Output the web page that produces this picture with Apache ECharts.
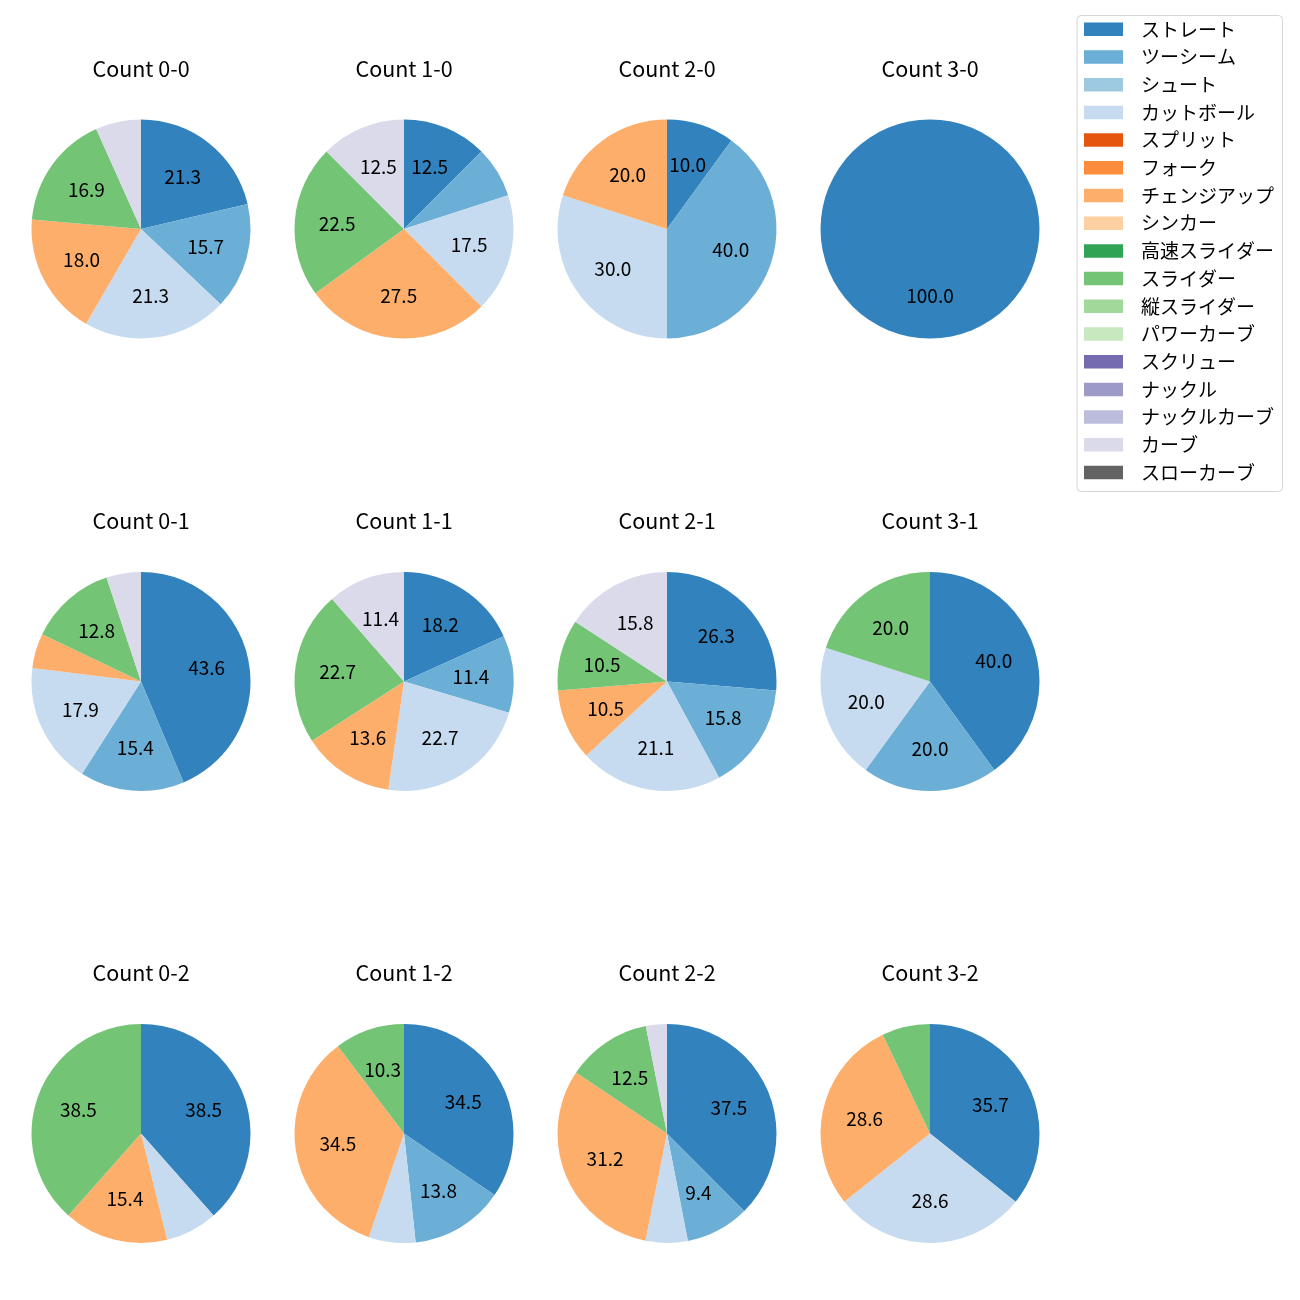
<!DOCTYPE html>
<html><head><meta charset="utf-8">
<script src="https://cdn.jsdelivr.net/npm/echarts@6/dist/echarts.min.js"></script>
<style>html,body{margin:0;padding:0;background:#fff}#c{width:1300px;height:1300px}</style>
</head><body><div id="c"></div><script>
const pitchTypes = ['ストレート','ツーシーム','シュート','カットボール','スプリット','フォーク','チェンジアップ','シンカー','高速スライダー','スライダー','縦スライダー','パワーカーブ','スクリュー','ナックル','ナックルカーブ','カーブ','スローカーブ'];
const palette = ['#3182bd','#6baed6','#9ecae1','#c6dbef','#e6550d','#fd8d3c','#fdae6b','#fdd0a2','#31a354','#74c476','#a1d99b','#c7e9c0','#756bb1','#9e9ac8','#bcbddc','#dadaeb','#636363'];
const countLabels = ['0-0','1-0','2-0','3-0','0-1','1-1','2-1','3-1','0-2','1-2','2-2','3-2'];
// percentages in pitchTypes order
const c00 = [21.3,15.7,0,21.3,0,0,18.0,0,0,16.9,0,0,0,0,0,6.7,0];
const c10 = [12.5,7.5,0,17.5,0,0,27.5,0,0,22.5,0,0,0,0,0,12.5,0];
const c20 = [10.0,40.0,0,30.0,0,0,20.0,0,0,0,0,0,0,0,0,0,0];
const c30 = [100.0,0,0,0,0,0,0,0,0,0,0,0,0,0,0,0,0];
const c01 = [43.6,15.4,0,17.9,0,0,5.1,0,0,12.8,0,0,0,0,0,5.1,0];
const c11 = [18.2,11.4,0,22.7,0,0,13.6,0,0,22.7,0,0,0,0,0,11.4,0];
const c21 = [26.3,15.8,0,21.1,0,0,10.5,0,0,10.5,0,0,0,0,0,15.8,0];
const c31 = [40.0,20.0,0,20.0,0,0,0,0,0,20.0,0,0,0,0,0,0,0];
const c02 = [38.5,0,0,7.7,0,0,15.4,0,0,38.5,0,0,0,0,0,0,0];
const c12 = [34.5,13.8,0,6.9,0,0,34.5,0,0,10.3,0,0,0,0,0,0,0];
const c22 = [37.5,9.4,0,6.2,0,0,31.2,0,0,12.5,0,0,0,0,0,3.1,0];
const c32 = [35.7,0,0,28.6,0,0,28.6,0,0,7.1,0,0,0,0,0,0,0];
const allCounts = [c00,c10,c20,c30,c01,c11,c21,c31,c02,c12,c22,c32];

const FONT = '"Noto Sans CJK JP", "Noto Sans", sans-serif';
const colX = [141, 404, 667, 930];
const rowY = [229, 681.5, 1133.5];
const R = 109.5;
const LABEL_R = 64;
const titleY = [69, 521, 973];

const series = [];
const graphics = [];
// legend provider (off-canvas)
series.push({
  type: 'pie', center: [-400, -400], radius: 5, silent: true, animation: false,
  label: {show: false}, labelLine: {show: false},
  data: pitchTypes.map((n, i) => ({name: n, value: 1, itemStyle: {color: palette[i]}}))
});
allCounts.forEach((vals, k) => {
  const cx = colX[k % 4], cy = rowY[Math.floor(k / 4)];
  const data = [];
  vals.forEach((v, i) => { if (v > 0) data.push({name: pitchTypes[i], value: v, itemStyle: {color: palette[i]}}); });
  series.push({
    type: 'pie', center: [cx, cy], radius: [0, R], startAngle: 90, clockwise: true,
    animation: false, silent: true, avoidLabelOverlap: false,
    itemStyle: {borderWidth: 0},
    label: {show: false}, labelLine: {show: false}, emphasis: {disabled: true},
    data: data
  });
  series.push({
    type: 'pie', center: [cx, cy], radius: [2 * LABEL_R - R, R], startAngle: 90, clockwise: true,
    animation: false, silent: true, avoidLabelOverlap: false,
    itemStyle: {color: 'rgba(0,0,0,0)', borderWidth: 0},
    label: {show: true, position: 'inside', fontSize: 19, fontFamily: FONT, color: '#000',
      padding: [0, 0, 4, 0],
      formatter: p => p.value >= 8 ? p.value.toFixed(1) : ''},
    labelLine: {show: false}, emphasis: {disabled: true},
    data: data.map(d => ({name: d.name, value: d.value}))
  });
  graphics.push({type: 'text', x: cx, y: titleY[Math.floor(k / 4)], style: {
    text: 'Count ' + countLabels[k], fontSize: 21.5, fontFamily: FONT, fill: '#000',
    align: 'center', verticalAlign: 'middle'}});
});
graphics.push({type: 'rect', shape: {x: 1077, y: 15.5, width: 205.5, height: 476, r: 4},
  style: {fill: 'none', stroke: '#d6d6d6', lineWidth: 1}, z: -1});

const chart = echarts.init(document.getElementById('c'), null, {renderer: 'canvas'});
chart.setOption({
  backgroundColor: '#fff',
  animation: false,
  legend: {
    orient: 'vertical', left: 1084, top: 29.3 - 11, padding: 0,
    itemWidth: 39, itemHeight: 13.5, itemGap: 5.7, icon: 'rect', selectedMode: false,
    data: pitchTypes,
    textStyle: {fontSize: 19, fontFamily: FONT, color: '#000', lineHeight: 22, padding: [0, 0, 0, 13]}
  },
  graphic: graphics,
  series: series
});
</script></body></html>
